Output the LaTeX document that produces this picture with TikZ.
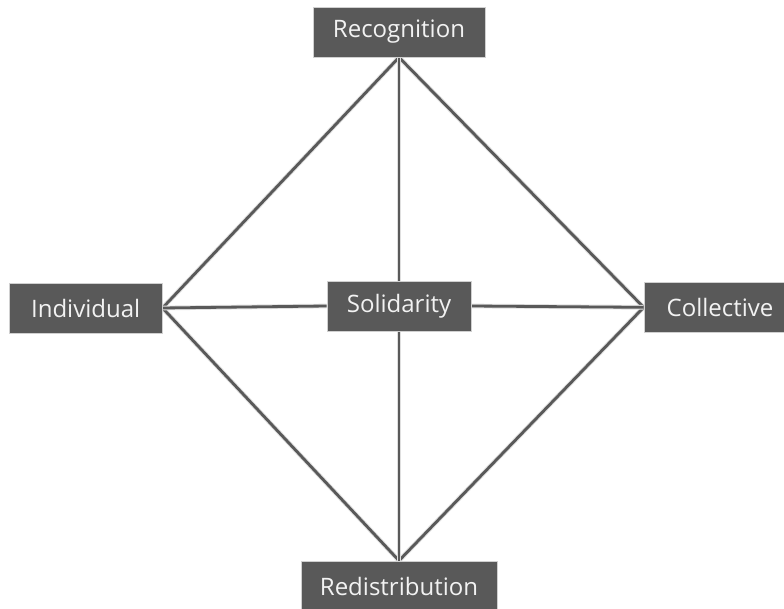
\documentclass[tikz,border=0pt]{standalone}
\usepackage{fontspec}
\setmainfont[Ligatures=NoCommon]{Open Sans}
\usetikzlibrary{positioning,backgrounds}

\definecolor{boxgray}{HTML}{595959}
\definecolor{rimgray}{HTML}{D0D0D0}

\begin{document}
\begin{tikzpicture}[
    box/.style={rectangle, draw=rimgray, line width=0.6pt, fill=boxgray, text=white!95!black,
                minimum height=1.5cm, inner xsep=0.3cm, font=\fontsize{20.5}{24}\selectfont},
    link/.style={draw, color=boxgray, line width=2.4pt,
                 preaction={draw, color=gray!25, line width=4pt}}
]
\useasboundingbox (0,0) rectangle (23.52,18.27);

% Define node positions
\node[box, minimum width=5.16cm] (Rec) at (11.97, 17.31) {Recognition};
\node[box, minimum width=4.59cm] (Ind) at (2.57, 9.03) {Individual};
\node[box, minimum width=4.32cm] (Sol) at (11.97, 9.09) {Solidarity};
\node[box, minimum width=4.56cm] (Col) at (21.6, 9.05) {Collective};
\node[box, minimum width=5.88cm] (Red) at (11.97, 0.69) {Redistribution};

% Draw the connecting lines behind the boxes
\begin{scope}[on background layer]
\draw[link] (Rec.south) -- (Ind.east);
\draw[link] (Rec.south) -- (Col.west);
\draw[link] (Rec.south) -- (Sol.north);
\draw[link] (Red.north) -- (Ind.east);
\draw[link] (Red.north) -- (Col.west);
\draw[link] (Red.north) -- (Sol.south);
\draw[link] (Ind.east) -- (Sol.west);
\draw[link] (Sol.east) -- (Col.west);
\end{scope}

\end{tikzpicture}
\end{document}
